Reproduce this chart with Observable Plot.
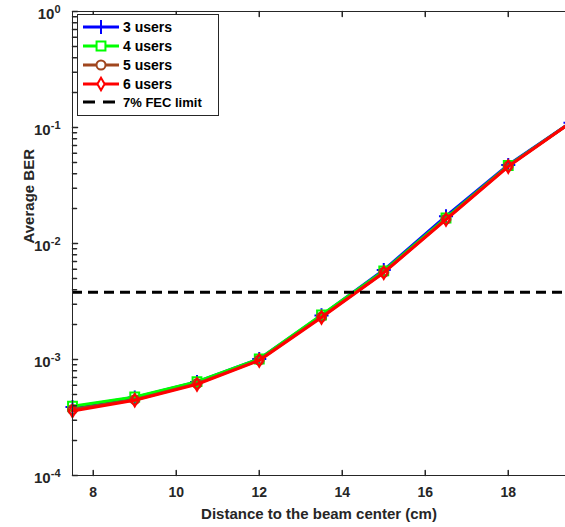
<!DOCTYPE html>
<html><head><meta charset="utf-8">
<script src="https://cdn.jsdelivr.net/npm/d3@7"></script>
<script src="https://cdn.jsdelivr.net/npm/@observablehq/plot@0.6"></script>
<style>
body{margin:0;background:#fff;}
#wrap{position:relative;width:565px;height:527px;overflow:hidden;}
</style></head><body><div id="wrap"></div>
<script>
// ---- data ----
const distance = [7.5, 9, 10.5, 12, 13.5, 15, 16.5, 18, 19.5];
const seriesNames = ["3 users", "4 users", "5 users", "6 users"];
const ber3users = [3.9e-4, 4.7e-4, 6.4e-4, 1.01e-3, 2.4e-3, 5.9e-3, 1.72e-2, 4.75e-2, 0.11];
const ber4users = [3.95e-4, 4.75e-4, 6.45e-4, 1.01e-3, 2.42e-3, 5.8e-3, 1.66e-2, 4.7e-2, 0.11];
const ber5users = [3.7e-4, 4.5e-4, 6.2e-4, 9.9e-4, 2.33e-3, 5.65e-3, 1.62e-2, 4.65e-2, 0.11];
const ber6users = [3.6e-4, 4.45e-4, 6.1e-4, 9.8e-4, 2.3e-3, 5.6e-3, 1.61e-2, 4.6e-2, 0.11];
const fecLimit = 3.8e-3;
const fecLabel = "7% FEC limit";
const xTicks = [8, 10, 12, 14, 16, 18];
const yTicks = [1e-4, 1e-3, 1e-2, 1e-1, 1];
const xTitle = "Distance to the beam center (cm)";
const yTitle = "Average BER";

// ---- styles ----
const seriesValues = [ber3users, ber4users, ber5users, ber6users];
const seriesColors = ["#0000ff", "#00ff00", "#a0461e", "#ff0000"];
const seriesSymbols = ["plus", "square", "circle", "diamond"];
const seriesR = [4.6, 5, 4.5, 3.8];
const d3Symbols = {plus: d3.symbolPlus, square: d3.symbolSquare, circle: d3.symbolCircle, diamond: d3.symbolDiamond};
const axisColor = "#262626";
const font = "'Liberation Sans', Arial, sans-serif";
const tickShape = {draw(context, l) { context.moveTo(0, 0); context.lineTo(0, -l); }};

const table = seriesNames.flatMap((name, i) =>
  distance.map((d, j) => ({series: name, x: d, ber: seriesValues[i][j]})));

const yMinor = [];
for (const dec of [1e-4, 1e-3, 1e-2, 1e-1]) for (const m of [2,3,4,5,6,7,8,9]) yMinor.push(dec * m);

const marks = [];
seriesNames.forEach((name, i) => {
  const rows = table.filter(r => r.series === name);
  marks.push(Plot.line(rows, {x: "x", y: "ber", stroke: seriesColors[i], strokeWidth: 3}));
  marks.push(Plot.dot(rows, {x: "x", y: "ber", symbol: () => seriesSymbols[i], r: seriesR[i],
    stroke: seriesColors[i], strokeWidth: 2, fill: "none"}));
});
marks.push(Plot.ruleY([fecLimit], {stroke: "black", strokeWidth: 3, strokeDasharray: "10,6"}));
// frame
marks.push(Plot.ruleX([7.5], {stroke: axisColor}));
marks.push(Plot.ruleY([1e-4], {stroke: axisColor}));
marks.push(Plot.ruleY([1], {stroke: axisColor}));
// inward ticks
marks.push(Plot.vector(xTicks, {x: d => d, y: () => 1e-4, length: 5, rotate: 0, anchor: "start", shape: tickShape, stroke: axisColor}));
marks.push(Plot.vector(xTicks, {x: d => d, y: () => 1, length: 5, rotate: 180, anchor: "start", shape: tickShape, stroke: axisColor}));
marks.push(Plot.vector(yTicks, {x: () => 7.5, y: d => d, length: 5, rotate: 90, anchor: "start", shape: tickShape, stroke: axisColor}));
marks.push(Plot.vector(yMinor, {x: () => 7.5, y: d => d, length: 4, rotate: 90, anchor: "start", shape: tickShape, stroke: axisColor}));
// axes
marks.push(Plot.axisX(xTicks, {tickSize: 0, tickPadding: 12, fontSize: 14, fontWeight: "bold", fill: axisColor, label: null}));
marks.push(Plot.axisY(yTicks, {tickSize: 0, tickPadding: 12, fontSize: 15, fontWeight: "bold", fill: axisColor, label: null,
  tickFormat: d => "10^" + Math.round(Math.log10(d))}));
marks.push(Plot.text([xTitle], {frameAnchor: "bottom", dy: 43, fontSize: 15, fontWeight: "bold", fill: axisColor}));
marks.push(Plot.text([yTitle], {frameAnchor: "left", dx: -43, rotate: -90, fontSize: 15, fontWeight: "bold", fill: axisColor}));

const chart = Plot.plot({
  width: 565, height: 527,
  marginLeft: 72, marginRight: 0, marginTop: 11, marginBottom: 52,
  style: {fontFamily: font, background: "white", overflow: "hidden"},
  x: {type: "linear", domain: [7.5, 19.5], range: [72, 570]},
  y: {type: "log", domain: [1e-4, 1]},
  marks
});
document.getElementById("wrap").appendChild(chart);

// superscript exponents on y tick labels
const svg = d3.select(chart);
svg.selectAll('g[aria-label="y-axis tick label"] text').each(function() {
  const t = d3.select(this);
  const s = t.text();
  if (!s.includes("^")) return;
  const [base, exp] = s.split("^");
  t.text(null);
  t.append("tspan").attr("dy", "0.15em").text(base);
  t.append("tspan").attr("dy", "-0.55em").attr("font-size", 11).text(exp);
});

// legend
const lg = svg.append("g").attr("font-family", font).attr("font-size", 14).attr("font-weight", "bold")
  .attr("text-anchor", "start");
lg.append("rect").attr("x", 77.5).attr("y", 14.5).attr("width", 141).attr("height", 101)
  .attr("fill", "white").attr("stroke", axisColor).attr("stroke-width", 1);
const rowsY = [27, 46, 65, 84, 102];
seriesNames.forEach((name, i) => {
  const y = rowsY[i];
  lg.append("line").attr("x1", 83).attr("x2", 119).attr("y1", y).attr("y2", y)
    .attr("stroke", seriesColors[i]).attr("stroke-width", 3);
  lg.append("path").attr("transform", `translate(101,${y})`)
    .attr("d", d3.symbol(d3Symbols[seriesSymbols[i]], seriesR[i] * seriesR[i] * Math.PI)())
    .attr("fill", "white").attr("stroke", seriesColors[i]).attr("stroke-width", 2);
  lg.append("text").attr("x", 123).attr("y", y).attr("dy", "0.35em").attr("text-anchor", "start")
    .attr("fill", "black").text(name);
});
lg.append("line").attr("x1", 83).attr("x2", 119).attr("y1", rowsY[4]).attr("y2", rowsY[4])
  .attr("stroke", "black").attr("stroke-width", 3).attr("stroke-dasharray", "12,8");
lg.append("text").attr("x", 123).attr("y", rowsY[4]).attr("dy", "0.35em").attr("text-anchor", "start")
  .attr("font-size", 13).attr("fill", "black").text(fecLabel);
</script></body></html>
